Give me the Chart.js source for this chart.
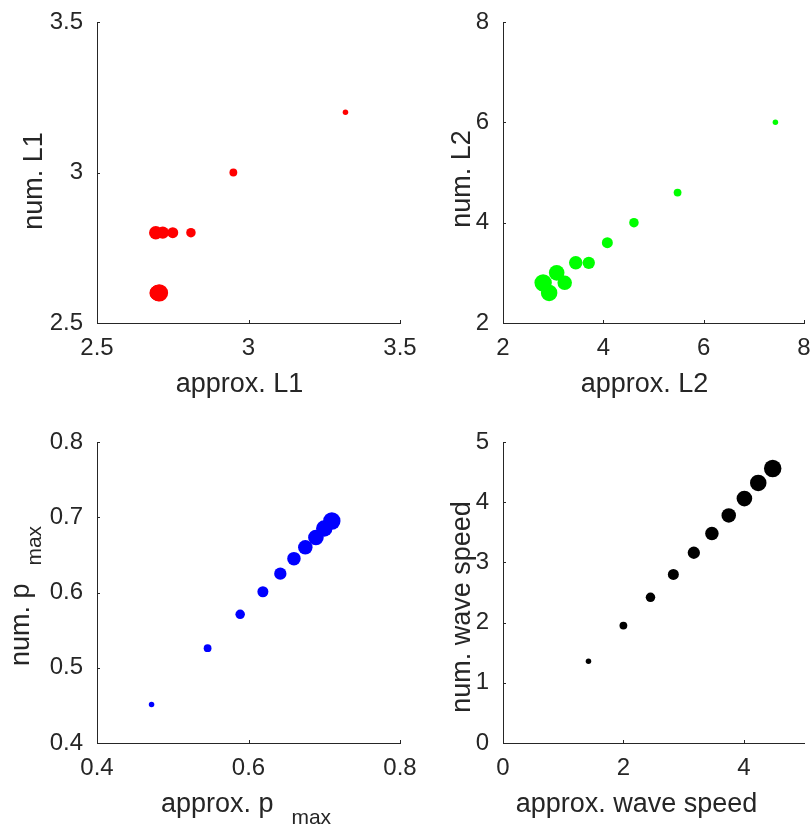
<!DOCTYPE html>
<html>
<head>
<meta charset="utf-8">
<script src="https://cdn.jsdelivr.net/npm/chart.js@4.4.0/dist/chart.umd.min.js"></script>
<style>
  html, body { margin: 0; padding: 0; background: #fff; overflow: hidden; }
  #wrap { position: relative; width: 812px; height: 827px; overflow: hidden; }
  /* canvases are bigger than the page so layout padding always wins over label overhang */
  #wrap canvas { position: absolute; left: -100px; top: -100px; }
</style>
</head>
<body>
<div id="wrap">
  <canvas id="cL1" width="1012" height="1027"></canvas>
  <canvas id="cL2" width="1012" height="1027"></canvas>
  <canvas id="cPmax" width="1012" height="1027"></canvas>
  <canvas id="cSpeed" width="1012" height="1027"></canvas>
</div>
<script>
// values, one entry per run
var approxL1 = [3.32, 2.95, 2.81, 2.75, 2.717, 2.694, 2.697, 2.700, 2.703, 2.706];
var numL1 = [3.2, 3.0, 2.8, 2.8, 2.8, 2.8, 2.6, 2.6, 2.6, 2.6];
var approxL2 = [7.43, 5.48, 4.61, 4.08, 3.71, 3.45, 3.23, 3.07, 2.92, 2.80];
var numL2 = [6.0, 4.6, 4.0, 3.6, 3.2, 3.2, 2.8, 3.0, 2.6, 2.8];
var approxPmax = [0.472, 0.546, 0.589, 0.619, 0.642, 0.660, 0.675, 0.689, 0.700, 0.710];
var numPmax = [0.451, 0.526, 0.571, 0.601, 0.625, 0.645, 0.660, 0.673, 0.685, 0.695];
var approxSpeed = [1.42, 2.00, 2.45, 2.83, 3.17, 3.47, 3.75, 4.01, 4.24, 4.48];
var numSpeed = [1.36, 1.95, 2.42, 2.80, 3.16, 3.48, 3.78, 4.06, 4.32, 4.56];

// tick labels
var l1Ticks = [2.5, 3, 3.5];
var l2Ticks = [2, 4, 6, 8];
var pmaxXTicks = [0.4, 0.6, 0.8];
var pmaxYTicks = [0.4, 0.5, 0.6, 0.7, 0.8];
var speedXTicks = [0, 2, 4];
var speedYTicks = [0, 1, 2, 3, 4, 5];

// marker radius grows with the run
var markerR = [2.75, 3.9, 4.75, 5.5, 6.15, 6.75, 7.25, 7.8, 8.25, 8.7];

var AXIS = '#262626';
var FONT = '"Liberation Sans", Arial, Helvetica, sans-serif';
var YW = 90, XH = 60; // fixed scale sizes, chart area is set by padding
var OFF = 100, CW = 1012, CH = 1027; // canvas offset / size

Chart.defaults.font.family = FONT;
Chart.defaults.color = AXIS;

function drawTitle(ctx, parts, gap) {
  var widths = parts.map(function (p) {
    ctx.font = p.size + 'px ' + FONT;
    return ctx.measureText(p.text).width;
  });
  var total = widths.reduce(function (a, b) { return a + b; }, 0) + gap * (parts.length - 1);
  var x = -total / 2;
  parts.forEach(function (p, i) {
    ctx.font = p.size + 'px ' + FONT;
    ctx.fillText(p.text, x, p.shift || 0);
    x += widths[i] + gap;
  });
}

// inward ticks + axis labels (with subscripts), one per chart
function axisDeco(titles) {
  return {
    id: 'axisDeco',
    afterDraw: function (chart) {
      var ctx = chart.ctx, a = chart.chartArea;
      var xs = chart.scales.x, ys = chart.scales.y;
      ctx.save();
      ctx.strokeStyle = AXIS;
      ctx.lineWidth = 1;
      ctx.beginPath();
      xs.ticks.forEach(function (t) {
        var px = Math.round(xs.getPixelForValue(t.value)) + 0.5;
        ctx.moveTo(px, a.bottom);
        ctx.lineTo(px, a.bottom - 3);
      });
      ys.ticks.forEach(function (t) {
        var py = Math.round(ys.getPixelForValue(t.value)) + 0.5;
        ctx.moveTo(a.left, py);
        ctx.lineTo(a.left + 3, py);
      });
      ctx.stroke();

      ctx.fillStyle = AXIS;
      ctx.textAlign = 'left';
      ctx.textBaseline = 'alphabetic';
      ctx.save();
      ctx.translate((a.left + a.right) / 2 + titles.x.off, a.bottom + titles.x.base);
      drawTitle(ctx, titles.x.parts, titles.x.gap || 0);
      ctx.restore();
      ctx.save();
      ctx.translate(a.left - titles.y.base, (a.top + a.bottom) / 2 + titles.y.off);
      ctx.rotate(-Math.PI / 2);
      drawTitle(ctx, titles.y.parts, titles.y.gap || 0);
      ctx.restore();
      ctx.restore();
    }
  };
}

function makePlot(id, xs, ys, color, xLim, yLim, xTicks, yTicks, area, titles) {
  var pts = xs.map(function (x, i) { return { x: x, y: ys[i] }; });
  var fmt = function (v) { return String(v); };
  return new Chart(document.getElementById(id), {
    type: 'scatter',
    data: {
      datasets: [{
        data: pts,
        pointRadius: markerR,
        pointBackgroundColor: color,
        pointBorderWidth: 0,
        pointHoverRadius: markerR
      }]
    },
    options: {
      responsive: false,
      animation: false,
      events: [],
      layout: {
        autoPadding: false,
        padding: {
          left: OFF + area.left - YW,
          top: OFF + area.top,
          right: CW - OFF - area.right,
          bottom: CH - OFF - area.bottom - XH
        }
      },
      plugins: {
        legend: { display: false },
        tooltip: { enabled: false }
      },
      scales: {
        x: {
          type: 'linear',
          min: xLim[0], max: xLim[1],
          afterBuildTicks: function (s) { s.ticks = xTicks.map(function (v) { return { value: v }; }); },
          afterFit: function (s) { s.height = XH; },
          grid: { display: false, drawTicks: false },
          border: { display: true, color: AXIS, width: 1 },
          ticks: { padding: 11, maxRotation: 0, autoSkip: false, font: { size: 24 }, color: AXIS, callback: fmt }
        },
        y: {
          type: 'linear',
          min: yLim[0], max: yLim[1],
          afterBuildTicks: function (s) { s.ticks = yTicks.map(function (v) { return { value: v }; }); },
          afterFit: function (s) { s.width = YW; },
          grid: { display: false, drawTicks: false },
          border: { display: true, color: AXIS, width: 1 },
          ticks: { padding: 14, autoSkip: false, font: { size: 24 }, color: AXIS, callback: fmt }
        }
      }
    },
    plugins: [axisDeco(titles)]
  });
}

makePlot('cL1', approxL1, numL1, '#ff0000', [2.5, 3.5], [2.5, 3.5], l1Ticks, l1Ticks,
  { left: 97, top: 22, right: 400, bottom: 323 },
  {
    x: { off: -9, base: 69, parts: [{ text: 'approx. L1', size: 27 }] },
    y: { off: 8.5, base: 55, parts: [{ text: 'num. L1', size: 27 }] }
  });

makePlot('cL2', approxL2, numL2, '#00ff00', [2, 8], [2, 8], l2Ticks, l2Ticks,
  { left: 503, top: 22, right: 804, bottom: 323 },
  {
    x: { off: -9, base: 69, parts: [{ text: 'approx. L2', size: 27 }] },
    y: { off: 6.5, base: 33, parts: [{ text: 'num. L2', size: 27 }] }
  });

makePlot('cPmax', approxPmax, numPmax, '#0000ff', [0.4, 0.8], [0.4, 0.8], pmaxXTicks, pmaxYTicks,
  { left: 97, top: 442, right: 400, bottom: 743 },
  {
    x: { off: -2.5, base: 69, gap: 18, parts: [{ text: 'approx. p', size: 27 }, { text: 'max', size: 21, shift: 12 }] },
    y: { off: 3.5, base: 68, gap: 18, parts: [{ text: 'num. p', size: 27 }, { text: 'max', size: 21, shift: 12 }] }
  });

makePlot('cSpeed', approxSpeed, numSpeed, '#000000', [0, 5], [0, 5], speedXTicks, speedYTicks,
  { left: 503, top: 442, right: 804, bottom: 743 },
  {
    x: { off: -17, base: 69, parts: [{ text: 'approx. wave speed', size: 27 }] },
    y: { off: 14.5, base: 33, parts: [{ text: 'num. wave speed', size: 27 }] }
  });
</script>
</body>
</html>
